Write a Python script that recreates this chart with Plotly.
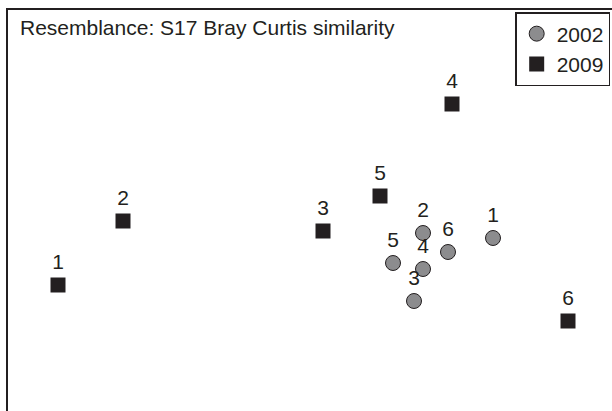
import plotly.graph_objects as go

labels = ["1", "2", "3", "4", "5", "6"]
x2002 = [1.85, 1.15, 1.06, 1.15, 0.85, 1.40]
y2002 = [-0.28, -0.23, -0.91, -0.59, -0.53, -0.42]
x2009 = [-2.50, -1.85, 0.15, 1.44, 0.72, 2.60]
y2009 = [-0.75, -0.11, -0.21, 1.06, 0.14, -1.11]

FONT = "Liberation Sans, Arial, Helvetica, sans-serif"
INK = "#231f20"

fig = go.Figure()
fig.add_trace(go.Scatter(
    x=x2002, y=y2002, mode="markers+text", name="2002",
    text=labels, textposition="top center",
    textfont=dict(size=21, color=INK, family=FONT),
    marker=dict(symbol="circle", size=15, color="#8c8c8e",
                line=dict(color=INK, width=1)),
))
fig.add_trace(go.Scatter(
    x=x2009, y=y2009, mode="markers+text", name="2009",
    text=labels, textposition="top center",
    textfont=dict(size=21, color=INK, family=FONT),
    marker=dict(symbol="square", size=15, color=INK,
                line=dict(color=INK, width=0)),
))

fig.add_annotation(
    text="Resemblance: S17 Bray Curtis similarity",
    xref="paper", yref="paper", x=0.017, y=1, xanchor="left", yanchor="top",
    yshift=-4, showarrow=False,
    font=dict(size=21, color=INK, family=FONT),
)

fig.update_layout(
    width=612, height=411,
    margin=dict(l=8, r=0, t=10, b=0),
    paper_bgcolor="white", plot_bgcolor="white",
    showlegend=True,
    legend=dict(
        x=0.997, y=0.995, xanchor="right", yanchor="top",
        bordercolor=INK, borderwidth=1.5, bgcolor="white",
        font=dict(size=21, color=INK, family=FONT),
        itemwidth=30, tracegroupgap=0,
    ),
    font=dict(family=FONT, color=INK),
)
fig.update_xaxes(range=[-3.0, 3.04], showgrid=False, zeroline=False,
                 showticklabels=False, ticks="", showline=True, side="top",
                 linecolor=INK, linewidth=2)
fig.update_yaxes(range=[-2.01, 2.0], showgrid=False, zeroline=False,
                 showticklabels=False, ticks="", showline=True, side="left",
                 linecolor=INK, linewidth=2)

fig.write_html("out.html", config={"displayModeBar": False},
               post_script="document.body.style.margin='0';")
